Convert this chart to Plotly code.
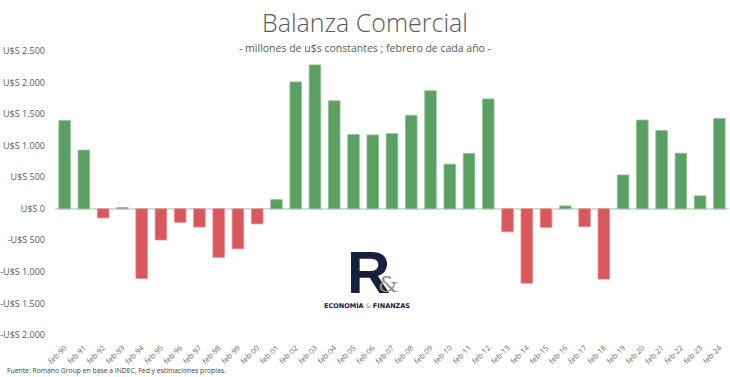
import plotly.graph_objects as go

categories = ["feb-90", "feb-91", "feb-92", "feb-93", "feb-94", "feb-95", "feb-96", "feb-97",
              "feb-98", "feb-99", "feb-00", "feb-01", "feb-02", "feb-03", "feb-04", "feb-05",
              "feb-06", "feb-07", "feb-08", "feb-09", "feb-10", "feb-11", "feb-12", "feb-13",
              "feb-14", "feb-15", "feb-16", "feb-17", "feb-18", "feb-19", "feb-20", "feb-21",
              "feb-22", "feb-23", "feb-24"]
values = [1400, 930, -145, 20, -1105, -495, -215, -290,
          -770, -635, -240, 145, 2010, 2280, 1710, 1175,
          1170, 1190, 1480, 1870, 705, 875, 1740, -365,
          -1180, -295, 45, -285, -1115, 535, 1405, 1240,
          880, 205, 1430]

ytick_vals = [2500, 2000, 1500, 1000, 500, 0, -500, -1000, -1500, -2000]
ytick_text = ["U$S 2.500", "U$S 2.000", "U$S 1.500", "U$S 1.000", "U$S 500", "U$S 0",
              "-U$S 500", "-U$S 1.000", "-U$S 1.500", "-U$S 2.000"]

GREEN = "#5AA062"
RED = "#D9585B"
colors = [GREEN if v >= 0 else RED for v in values]
line_colors = ["#8CC093" if v >= 0 else "#E88A8C" for v in values]

L, T, W, H = 55, 51, 674, 284

fig = go.Figure()
fig.add_trace(go.Bar(
    x=categories, y=values,
    marker=dict(color=colors, line=dict(color=line_colors, width=0.8)),
    width=0.6,
))

fig.update_layout(
    width=730, height=377,
    margin=dict(l=L, r=730 - L - W, t=T, b=377 - T - H, autoexpand=False),
    paper_bgcolor="white", plot_bgcolor="white",
    showlegend=False,
    font=dict(family="Open Sans, sans-serif", color="#595959"),
)
fig.update_yaxes(
    range=[-2000, 2500], tickvals=ytick_vals, ticktext=ytick_text, automargin=False,
    showgrid=False, zeroline=True, zerolinecolor="#D9D9D9", zerolinewidth=1.5,
    tickfont=dict(size=9, color="#595959"), ticks="", showline=False, ticklabelstandoff=9,
)
fig.update_xaxes(
    tickangle=-45, tickfont=dict(size=7.5, color="#6A6A6A"), automargin=False,
    showgrid=False, showline=False, ticks="", range=[-0.5, 34.5], ticklabelstandoff=6,
)


def px(x):
    return (x - L) / W


def py(y):
    return 1 - (y - T) / H


fig.add_annotation(text="Balanza Comercial", xref="paper", yref="paper", x=px(365),
                   y=py(22), showarrow=False, xanchor="center", yanchor="middle",
                   font=dict(size=25, color="#595959", family="Open Sans, sans-serif", weight=300))
fig.add_annotation(text="- millones de u$s constantes ; febrero de cada año -", xref="paper", yref="paper",
                   x=px(365), y=py(48), showarrow=False,
                   xanchor="center", yanchor="middle",
                   font=dict(size=10.5, color="#595959"))
fig.add_annotation(text="Fuente: Romano Group en base a INDEC, Fed y estimaciones propias.",
                   xref="paper", yref="paper", x=px(5), y=py(370),
                   showarrow=False, xanchor="left", yanchor="middle",
                   font=dict(size=6.8, color="#404040"))
# logo
fig.add_annotation(text="<b>R</b>", xref="paper", yref="paper", x=px(345),
                   y=py(272), showarrow=False, xanchor="left", yanchor="middle",
                   height=46, valign="middle",
                   font=dict(size=60, color="#15203A", family="Liberation Sans, Arial"))
fig.add_annotation(text="&amp;", xref="paper", yref="paper", x=px(376),
                   y=py(284), showarrow=False, xanchor="left", yanchor="middle",
                   height=22, valign="middle",
                   font=dict(size=23, color="#8C8C8C", family="DejaVu Serif, serif"))
fig.add_annotation(text="<b>ECONOMÍA</b><span style='color:#999999'> &amp; </span><b>FINANZAS</b>",
                   xref="paper", yref="paper", x=px(367),
                   y=py(305), showarrow=False, xanchor="center", yanchor="middle",
                   font=dict(size=6.5, color="#15203A", family="DejaVu Sans, sans-serif"))

fig.write_html("out.html", config={"displayModeBar": False},
               post_script="document.body.style.margin='0';document.body.style.padding='0';")
